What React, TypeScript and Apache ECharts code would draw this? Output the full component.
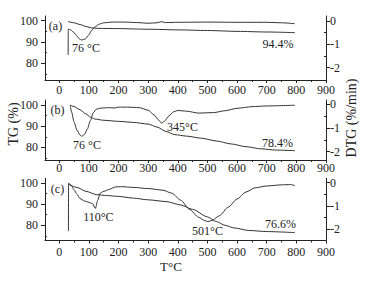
import React, { useEffect, useRef } from "react";
import * as echarts from "echarts";

// ---- tick values ----
const xTicks = [0, 100, 200, 300, 400, 500, 600, 700, 800, 900];
const xMinorTicks = [50, 150, 250, 350, 450, 550, 650, 750, 850];
const tgTicks = [80, 90, 100];
const tgMinorTicks = [75, 85, 95];
const dtgTicks = [-2, -1, 0];
const dtgMinorTicks = [-1.5, -0.5];

// ---- panel (a) ----
const tgA: number[][] = [
  [30, 99.6], [50, 99.0], [70, 98.2], [90, 97.3], [110, 96.6], [130, 96.4],
  [200, 96.3], [300, 96.0], [400, 95.7], [500, 95.4], [600, 95.0], [700, 94.7], [795, 94.4],
];
const dtgA: number[][] = [
  [30, -1.46], [30.5, -0.36], [38, -0.38], [50, -0.5], [60, -0.65], [68, -0.77], [76, -0.82],
  [88, -0.77], [100, -0.6], [110, -0.4], [120, -0.26], [135, -0.14], [150, -0.08],
  [180, -0.05], [220, -0.05], [260, -0.07], [300, -0.1], [330, -0.08], [345, -0.03],
  [355, -0.07], [370, -0.07], [400, -0.06], [500, -0.05], [600, -0.06], [700, -0.06],
  [750, -0.08], [795, -0.12],
];

// ---- panel (b) ----
const tgB: number[][] = [
  [37, 100.0], [50, 99.3], [70, 97.8], [90, 95.8], [105, 94.3], [120, 93.4], [150, 92.8],
  [200, 92.3], [250, 91.8], [300, 91.0], [330, 89.6], [360, 87.5], [390, 86.0], [430, 85.3],
  [480, 84.3], [530, 83.0], [580, 81.6], [630, 80.3], [680, 79.3], [730, 78.7], [795, 78.4],
];
const dtgB: number[][] = [
  [37, -0.05], [42, -0.35], [50, -0.75], [60, -1.1], [70, -1.3], [76, -1.35], [85, -1.28],
  [95, -1.05], [105, -0.7], [115, -0.36], [125, -0.22], [140, -0.17], [170, -0.15],
  [185, -0.17], [200, -0.13], [230, -0.13], [270, -0.15], [300, -0.26], [320, -0.45],
  [335, -0.67], [345, -0.8], [355, -0.72], [370, -0.5], [385, -0.33], [400, -0.27],
  [430, -0.3], [470, -0.38], [520, -0.36], [560, -0.28], [600, -0.18], [650, -0.11],
  [700, -0.08], [795, -0.05],
];

// ---- panel (c) ----
const tgC: number[][] = [
  [33, 99.2], [60, 97.8], [90, 96.0], [127, 94.4], [160, 94.0], [200, 93.6], [250, 92.8],
  [300, 92.0], [360, 91.2], [410, 89.6], [450, 87.5], [500, 84.0], [530, 81.8], [560, 80.0],
  [590, 78.8], [640, 77.6], [700, 77.1], [795, 76.6],
];
const dtgC: number[][] = [
  [31, -2.08], [31.5, -0.02], [40, -0.1], [50, -0.3], [60, -0.5], [70, -0.68], [85, -0.78],
  [100, -0.84], [112, -0.9], [122, -1.1], [130, -0.75], [138, -0.45], [148, -0.38],
  [170, -0.28], [190, -0.18], [210, -0.17], [250, -0.2], [300, -0.25], [350, -0.32],
  [380, -0.45], [410, -0.75], [440, -1.15], [470, -1.48], [490, -1.62], [501, -1.67],
  [515, -1.62], [540, -1.42], [570, -1.05], [600, -0.7], [630, -0.4], [660, -0.22],
  [700, -0.14], [750, -0.09], [780, -0.08], [795, -0.12],
];

const panelLabels = ["(a)", "(b)", "(c)"];
const peakLabels = [["76 °C"], ["76 °C", "345°C"], ["110°C", "501°C"]];
const residueLabels = ["94.4%", "78.4%", "76.6%"];

const FONT = '"Liberation Serif", "Times New Roman", serif';
const INK = "#222";

export default function App() {
  const ref = useRef<HTMLDivElement>(null);
  useEffect(() => {
    if (!ref.current) return;
    const chart = echarts.init(ref.current, undefined, { renderer: "svg" });

    const panels = [
      { top: 16, height: 64, tg: [72.2, 102.2], dtg: [-2.53, 0.21], lm: 4, tgS: tgA, dtgS: dtgA },
      { top: 100, height: 60, tg: [74.0, 102.4], dtg: [-2.35, 0.17], lm: 2, tgS: tgB, dtgS: dtgB },
      { top: 178.3, height: 62.2, tg: [72.9, 102.1], dtg: [-2.48, 0.19], lm: 5, tgS: tgC, dtgS: dtgC },
    ];

    const grid: any[] = [];
    const xAxis: any[] = [];
    const yAxis: any[] = [];
    const series: any[] = [];
    const lineSt = { color: INK, width: 1 };
    const labelSt = { color: INK, fontSize: 12, fontFamily: FONT };

    panels.forEach((p, i) => {
      grid.push({ left: 45, width: 281, top: p.top, height: p.height });
      xAxis.push({
        type: "value", gridIndex: i, min: -48, max: 900, position: "bottom",
        axisLine: { show: true, onZero: false, lineStyle: lineSt },
        axisTick: { show: true, inside: false, length: 3, customValues: xTicks, lineStyle: lineSt },
        axisLabel: { show: true, margin: p.lm, customValues: xTicks, ...labelSt },
        splitLine: { show: false },
      });
      xAxis.push({
        type: "value", gridIndex: i, min: -48, max: 900, position: "bottom",
        axisLine: { show: false, onZero: false },
        axisTick: { show: true, inside: false, length: 2, customValues: xMinorTicks, lineStyle: lineSt },
        axisLabel: { show: false },
        splitLine: { show: false },
      });
      yAxis.push({
        type: "value", gridIndex: i, min: p.tg[0], max: p.tg[1], position: "left",
        axisLine: { show: true, onZero: false, lineStyle: lineSt },
        axisTick: { show: true, inside: false, length: 4, customValues: tgTicks, lineStyle: lineSt },
        axisLabel: { show: true, margin: 7, customValues: tgTicks, ...labelSt },
        splitLine: { show: false },
      });
      yAxis.push({
        type: "value", gridIndex: i, min: p.tg[0], max: p.tg[1], position: "left",
        axisLine: { show: false, onZero: false },
        axisTick: { show: true, inside: true, length: 2, customValues: tgMinorTicks, lineStyle: lineSt },
        axisLabel: { show: false },
        splitLine: { show: false },
      });
      yAxis.push({
        type: "value", gridIndex: i, min: p.dtg[0], max: p.dtg[1], position: "right",
        axisLine: { show: true, onZero: false, lineStyle: lineSt },
        axisTick: { show: true, inside: false, length: 4, customValues: dtgTicks, lineStyle: lineSt },
        axisLabel: { show: true, margin: 4, customValues: dtgTicks, ...labelSt },
        splitLine: { show: false },
      });
      yAxis.push({
        type: "value", gridIndex: i, min: p.dtg[0], max: p.dtg[1], position: "right",
        axisLine: { show: false, onZero: false },
        axisTick: { show: true, inside: true, length: 2, customValues: dtgMinorTicks, lineStyle: lineSt },
        axisLabel: { show: false },
        splitLine: { show: false },
      });
      series.push({
        type: "line", xAxisIndex: 2 * i, yAxisIndex: 4 * i, data: p.tgS,
        symbol: "none", smooth: 0.25, smoothMonotone: "x", lineStyle: { color: "#333", width: 1 },
      });
      series.push({
        type: "line", xAxisIndex: 2 * i, yAxisIndex: 4 * i + 2, data: p.dtgS,
        symbol: "none", smooth: 0.25, smoothMonotone: "x", lineStyle: { color: "#333", width: 1 },
      });
    });

    const txt = (text: string, x: number, y: number, size = 12, rotation = 0) => ({
      type: "text", x, y, rotation, silent: true,
      style: { text, fill: INK, fontSize: size, fontFamily: FONT, align: "center", verticalAlign: "middle" },
    });

    const graphic = [
      txt(panelLabels[0], 55.5, 25.5), txt(peakLabels[0][0], 86, 48), txt(residueLabels[0], 278, 44),
      txt(panelLabels[1], 57.5, 109.7), txt(peakLabels[1][0], 87, 144.5), txt(peakLabels[1][1], 182.5, 126.7),
      txt(residueLabels[1], 277.5, 142.5),
      txt(panelLabels[2], 57.5, 189), txt(peakLabels[2][0], 98.3, 216.7), txt(peakLabels[2][1], 207.5, 230.5),
      txt(residueLabels[2], 280.5, 224),
      txt("TG (%)", 13, 124, 14, Math.PI / 2),
      txt("DTG (%/min)", 351, 118, 14, Math.PI / 2),
      txt("T°C", 171, 266.7, 13),
    ];

    chart.setOption({
      animation: false,
      backgroundColor: "#fff",
      grid, xAxis, yAxis, series, graphic,
    });
    return () => chart.dispose();
  }, []);
  return <div ref={ref} style={{ position: "absolute", left: 0, top: 0, width: 365, height: 283 }} />;
}
